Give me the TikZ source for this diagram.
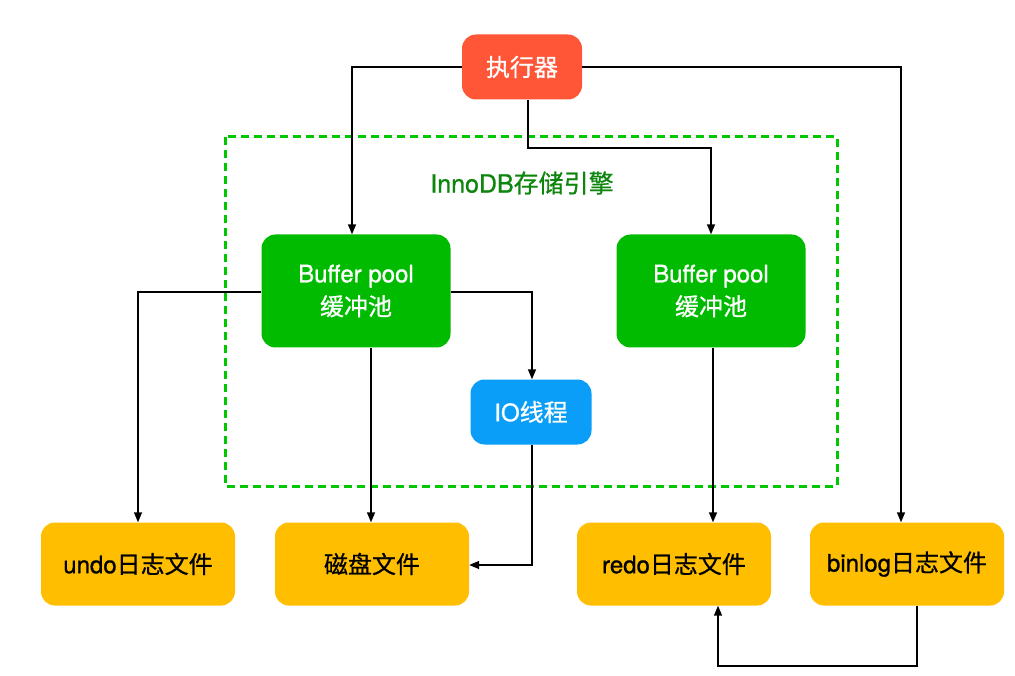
\documentclass[tikz,border=0pt]{standalone}
\usepackage{fontspec}
\setmainfont{TeX Gyre Heros}[FakeBold=0.9]
\newfontfamily\cjk{Noto Sans CJK SC}[FakeBold=0.7]
\newcommand{\zh}[1]{{\cjk #1}}
\usetikzlibrary{arrows.meta}
\definecolor{cred}{HTML}{FF5638}
\definecolor{cgreen}{HTML}{00BB00}
\definecolor{cdash}{HTML}{00C800}
\definecolor{corange}{HTML}{FFBE00}
\definecolor{cblue}{HTML}{0A9EF8}
\definecolor{ctitle}{HTML}{0E860E}
\tikzset{
  box/.style={rounded corners=14pt, inner sep=0pt, align=center, font=\fontsize{24pt}{33pt}\selectfont},
  redbox/.style={box, fill=cred, text=white, minimum width=120pt, minimum height=65pt},
  greenbox/.style={box, fill=cgreen, text=white, minimum width=189pt, minimum height=113pt},
  bluebox/.style={box, fill=cblue, text=white, minimum width=121pt, minimum height=65pt},
  filebox/.style={box, fill=corange, text=black, minimum width=194pt, minimum height=83pt},
  conn/.style={draw=black, line width=1.5pt, -{Triangle[length=10pt,width=8pt]}}
}
\begin{document}
\begin{tikzpicture}[x=1pt,y=-1pt]
\useasboundingbox[fill=white] (0,0) rectangle (1015,676);
\draw[cdash, line width=3pt, dash pattern=on 8pt off 5pt] (225,137) rectangle (837,486);
\node[text=ctitle, font=\fontsize{25pt}{28pt}\selectfont] (title) at (522,183) {InnoDB\zh{存储引擎}};
\node[redbox] (exec) at (522,67) {\zh{执行器}};
\node[greenbox] (bpl) at (356,291) {Buffer pool\\\zh{缓冲池}};
\node[greenbox] (bpr) at (711,291) {Buffer pool\\\zh{缓冲池}};
\node[bluebox] (io) at (531,412) {IO\zh{线程}};
\node[filebox] (undo) at (138,564) {undo\zh{日志文件}};
\node[filebox] (disk) at (372,564) {\zh{磁盘文件}};
\node[filebox] (redo) at (674,564) {redo\zh{日志文件}};
\node[filebox] (binlog) at (907,564) {binlog\zh{日志文件}};
\coordinate (c1) at (352,67);
\coordinate (c2) at (901,67);
\coordinate (c3) at (528,148);
\coordinate (c4) at (138,292);
\coordinate (c5) at (532,292);
\coordinate (c6) at (532,565);
\coordinate (c7) at (917,666);
\coordinate (c8) at (718,666);
\draw[conn] (exec.west) -- (c1) -- (c1 |- bpl.north);
\draw[conn] (exec.east) -- (c2) -- (c2 |- binlog.north);
\draw[conn] (exec.south -| c3) -- (c3) -| (bpr.north -| 711,0);
\draw[conn] (bpl.west |- c4) -- (c4) -- (undo.north);
\draw[conn] (bpl.east |- c5) -- (c5) -- (c5 |- io.north);
\draw[conn] (bpl.south -| 371,0) -- (disk.north -| 371,0);
\draw[conn] (io.south -| c6) -- (c6) -- (disk.east |- c6);
\draw[conn] (bpr.south -| 713,0) -- (redo.north -| 713,0);
\draw[conn] (binlog.south -| c7) -- (c7) -- (c8) -- (redo.south -| c8);
\end{tikzpicture}
\end{document}
